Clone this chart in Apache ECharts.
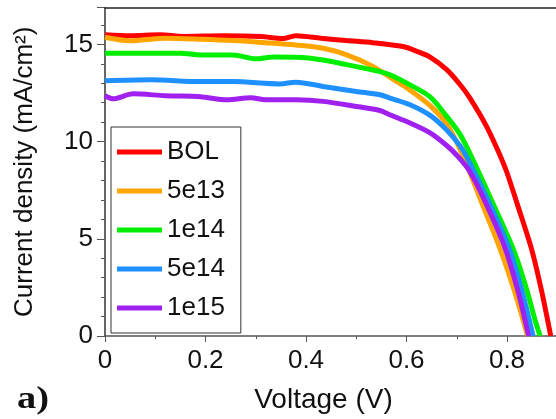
<!DOCTYPE html>
<html>
<head>
<meta charset="utf-8">
<script src="https://cdn.jsdelivr.net/npm/echarts@6/dist/echarts.min.js"></script>
<style>
html,body{margin:0;padding:0;background:#fff;}
#chart{width:556px;height:419px;}
</style>
</head>
<body>
<div id="chart"></div>
<script>
// [Voltage (V), Current density (mA/cm2)]
const seriesNames = ['BOL', '5e13', '1e14', '5e14', '1e15'];
const seriesColors = ['#ff0000', '#ffa500', '#00ee00', '#1e90ff', '#a020f0'];

const bol = [[0,15.5],[0.05,15.45],[0.11,15.5],[0.155,15.41],[0.235,15.45],[0.31,15.41],[0.354,15.3],[0.38,15.45],[0.43,15.32],[0.48,15.2],[0.533,15.09],[0.593,14.89],[0.62,14.65],[0.647,14.35],[0.68,13.7],[0.706,12.95],[0.726,12.25],[0.76,10.75],[0.786,9.3],[0.80,8.4],[0.819,6.9],[0.849,4.46],[0.869,2.3],[0.887,0]];
const d5e13 = [[0,15.37],[0.05,15.19],[0.12,15.32],[0.19,15.27],[0.255,15.2],[0.32,15.09],[0.38,14.97],[0.434,14.8],[0.481,14.46],[0.534,13.86],[0.574,13.2],[0.607,12.65],[0.647,11.85],[0.68,10.9],[0.712,9.3],[0.749,6.9],[0.786,4.5],[0.815,2.3],[0.841,0]];
const d1e14 = [[0,14.55],[0.09,14.55],[0.15,14.55],[0.19,14.46],[0.255,14.46],[0.30,14.26],[0.335,14.35],[0.38,14.34],[0.434,14.2],[0.5,13.86],[0.547,13.6],[0.567,13.44],[0.607,12.92],[0.647,12.3],[0.68,11.3],[0.706,10.4],[0.728,9.3],[0.773,6.77],[0.815,4.3],[0.839,2.4],[0.856,0.8],[0.866,0]];
const d5e14 = [[0,13.13],[0.09,13.18],[0.19,13.09],[0.255,13.09],[0.348,12.97],[0.38,13.06],[0.434,12.84],[0.5,12.58],[0.547,12.41],[0.567,12.24],[0.607,11.9],[0.647,11.35],[0.68,10.6],[0.706,9.8],[0.72,9.2],[0.766,6.77],[0.805,4.46],[0.829,2.4],[0.852,0]];
const d1e15 = [[0,12.36],[0.016,12.2],[0.056,12.46],[0.12,12.36],[0.19,12.31],[0.243,12.15],[0.29,12.26],[0.32,12.15],[0.38,12.15],[0.434,12.07],[0.5,11.81],[0.547,11.6],[0.567,11.38],[0.607,10.96],[0.647,10.45],[0.68,9.8],[0.70,9.3],[0.725,8.5],[0.755,7.0],[0.795,4.6],[0.822,2.3],[0.843,0]];
const seriesData = [bol, d5e13, d1e14, d5e14, d1e15];

const xTicks = [0, 0.2, 0.4, 0.6, 0.8];
const yTicks = [0, 5, 10, 15];

const FONT = 'Liberation Sans, Arial, sans-serif';
const chart = echarts.init(document.getElementById('chart'), null, {renderer: 'canvas'});

function onTick(v, ticks) {
  return ticks.some(t => Math.abs(t - v) < 1e-6);
}

const option = {
  animation: false,
  backgroundColor: '#fff',
  grid: {left: 105, right: 0, top: 7.5, bottom: 82, containLabel: false},
  legend: {
    orient: 'vertical',
    left: 111, top: 127,
    icon: 'rect',
    itemWidth: 45, itemHeight: 5,
    itemGap: 13,
    padding: [12, 16, 12, 6],
    borderColor: '#333', borderWidth: 1,
    backgroundColor: '#fff',
    textStyle: {fontSize: 26, lineHeight: 26, color: '#111', fontFamily: FONT},
    data: seriesNames
  },
  xAxis: [{
    type: 'value', min: 0, max: 0.8975, interval: 0.2,
    name: 'Voltage (V)', nameLocation: 'middle', nameGap: 50,
    nameTextStyle: {fontSize: 28, color: '#111', fontFamily: FONT, padding: [0, 14, 0, 0]},
    axisLine: {show: true, lineStyle: {color: '#555', width: 1.5}},
    axisTick: {show: true, length: 6, lineStyle: {color: '#555'}},
    minorTick: {show: true, splitNumber: 2, length: 3, lineStyle: {color: '#555'}},
    splitLine: {show: false},
    axisLabel: {fontSize: 26, color: '#111', fontFamily: FONT, margin: 12,
      showMaxLabel: false,
      formatter: v => onTick(v, xTicks) ? (v === 0 ? '0' : v.toFixed(1)) : ''}
  }, {
    type: 'value', min: 0, max: 0.8975, position: 'top',
    axisLine: {show: true, lineStyle: {color: '#222', width: 1.5}},
    axisTick: {show: false}, axisLabel: {show: false}, splitLine: {show: false}
  }],
  yAxis: {
    type: 'value', min: 0, max: 16.9, interval: 5,
    name: 'Current density (mA/cm²)', nameLocation: 'middle', nameGap: 67, nameRotate: 90,
    nameTextStyle: {fontSize: 26, color: '#111', fontFamily: FONT},
    axisLine: {show: true, lineStyle: {color: '#333', width: 1.5}},
    axisTick: {show: true, length: 8, lineStyle: {color: '#555'}},
    minorTick: {show: true, splitNumber: 5, length: 4, lineStyle: {color: '#555'}},
    splitLine: {show: false},
    axisLabel: {fontSize: 26, color: '#111', fontFamily: FONT, margin: 12,
      showMaxLabel: false,
      formatter: v => onTick(v, yTicks) ? String(v) : ''}
  },
  series: seriesNames.map((n, i) => ({
    name: n, type: 'line', xAxisIndex: 0,
    data: seriesData[i],
    showSymbol: false, symbol: 'none',
    smooth: 0.3,
    color: seriesColors[i],
    lineStyle: {width: 5, color: seriesColors[i]},
    clip: true
  })),
  graphic: [{
    type: 'text', x: 17, y: 384, scaleX: 1.2,
    style: {text: 'a)', font: 'bold 32px "Liberation Serif", "Times New Roman", serif', fill: '#111'}
  }]
};
chart.setOption(option);
</script>
</body>
</html>
